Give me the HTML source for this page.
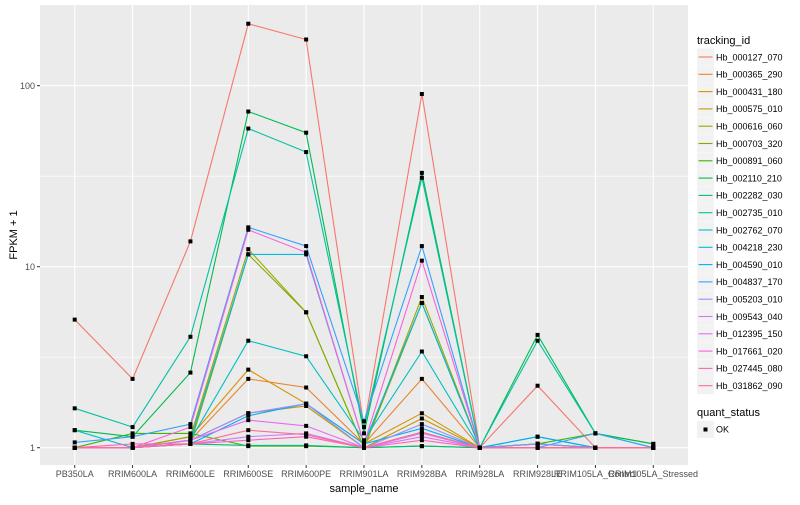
<!DOCTYPE html>
<html><head><meta charset="utf-8"><style>
body{margin:0;background:#fff;font-family:"Liberation Sans",sans-serif}
svg text{font-family:"Liberation Sans",sans-serif}
</style></head><body>
<svg id="chart" width="800" height="500" xmlns="http://www.w3.org/2000/svg"></svg>
<script>
const categories=["PB350LA","RRIM600LA","RRIM600LE","RRIM600SE","RRIM600PE","RRIM901LA","RRIM928BA","RRIM928LA","RRIM928LE","RRIM105LA_Control","RRIM105LA_Stressed"];
const seriesNames=["Hb_000127_070","Hb_000365_290","Hb_000431_180","Hb_000575_010","Hb_000616_060","Hb_000703_320","Hb_000891_060","Hb_002110_210","Hb_002282_030","Hb_002735_010","Hb_002762_070","Hb_004218_230","Hb_004590_010","Hb_004837_170","Hb_005203_010","Hb_009543_040","Hb_012395_150","Hb_017661_020","Hb_027445_080","Hb_031862_090"];
const colors=["#F8766D","#EA8331","#D89000","#C09B00","#A3A500","#7CAE00","#39B600","#00BB4E","#00BF7D","#00C1A3","#00BFC4","#00BAE0","#00B0F6","#35A2FF","#9590FF","#C77CFF","#E76BF3","#FA62DB","#FF62BC","#FF6C91"];
const s01=[5.1,2.4,13.8,220,180,1.3,90,1.0,2.2,1.0,1.0];
const s02=[1.0,1.0,1.1,2.4,2.15,1.05,2.4,1.0,1.05,1.0,1.0];
const s03=[1.0,1.0,1.15,2.7,1.75,1.05,1.55,1.0,1.05,1.0,1.0];
const s04=[1.0,1.0,1.1,1.55,1.7,1.0,1.45,1.0,1.0,1.0,1.0];
const s05=[1.0,1.0,1.15,12.5,5.6,1.0,6.8,1.0,1.05,1.0,1.0];
const s06=[1.0,1.0,1.05,11.7,5.6,1.0,6.3,1.0,1.05,1.0,1.0];
const s07=[1.0,1.2,1.2,1.02,1.02,1.0,1.02,1.0,1.05,1.2,1.05];
const s08=[1.25,1.15,2.6,72,55,1.2,33,1.0,4.2,1.2,1.05];
const s09=[1.0,1.0,1.05,1.03,1.03,1.0,1.02,1.0,1.0,1.0,1.0];
const s10=[1.65,1.3,4.1,58,43,1.3,31,1.0,3.9,1.2,1.0];
const s11=[1.25,1.0,1.1,3.9,3.2,1.1,3.4,1.0,1.05,1.0,1.0];
const s12=[1.0,1.0,1.1,11.7,11.7,1.05,6.3,1.0,1.15,1.0,1.0];
const s13=[1.0,1.0,1.05,1.5,1.75,1.05,1.28,1.0,1.15,1.0,1.0];
const s14=[1.07,1.15,1.35,16.5,13,1.4,13,1.0,1.0,1.2,1.0];
const s15=[1.0,1.0,1.1,1.55,1.75,1.0,1.35,1.0,1.05,1.0,1.0];
const s16=[1.0,1.0,1.05,1.15,1.2,1.0,1.2,1.0,1.0,1.0,1.0];
const s17=[1.0,1.0,1.1,1.42,1.32,1.0,1.15,1.0,1.0,1.0,1.0];
const s18=[1.0,1.0,1.3,16,12,1.05,10.8,1.0,1.0,1.0,1.0];
const s19=[1.0,1.05,1.05,1.1,1.15,1.0,1.1,1.0,1.0,1.0,1.0];
const s20=[1.0,1.0,1.05,1.25,1.18,1.0,1.22,1.0,1.0,1.0,1.0];
const seriesValues=[s01,s02,s03,s04,s05,s06,s07,s08,s09,s10,s11,s12,s13,s14,s15,s16,s17,s18,s19,s20];
const yTickValues=[1,10,100];
const yTickLabels=["1","10","100"];

const NS="http://www.w3.org/2000/svg";
const svg=document.getElementById('chart');
const PL=40,PR=688,PT=5,PB=465;
const step=(PR-PL)/(categories.length-1+1.2);
function xScale(i){return PL+0.6*step+i*step;}
function yScale(v){return 447.7-Math.log10(v)*181;}
function el(tag,attrs,parent){const e=document.createElementNS(NS,tag);for(const k in attrs)e.setAttribute(k,attrs[k]);(parent||svg).appendChild(e);return e;}

const panel=el('rect',{x:PL,y:PT,width:PR-PL,height:PB-PT,fill:'#EBEBEB'});


const grid=el('g',{});


[Math.sqrt(10),Math.sqrt(1000)].forEach(v=>{el('line',{x1:PL,x2:PR,y1:yScale(v),y2:yScale(v),stroke:'#fff','stroke-width':0.6},grid);});
yTickValues.forEach(v=>{el('line',{x1:PL,x2:PR,y1:yScale(v),y2:yScale(v),stroke:'#fff','stroke-width':1.1},grid);});
categories.forEach((c,i)=>{el('line',{x1:xScale(i),x2:xScale(i),y1:PT,y2:PB,stroke:'#fff','stroke-width':1.1},grid);});

const yAxis=el('g',{});


yTickValues.forEach((v,i)=>{
  el('line',{x1:PL-3,x2:PL,y1:yScale(v),y2:yScale(v),stroke:'#333','stroke-width':1},yAxis);
  const t=el('text',{x:PL-5,y:yScale(v)+3.5,'text-anchor':'end','font-size':9,fill:'#4D4D4D'},yAxis);
  t.textContent=yTickLabels[i];
  
  
});
const xAxis=el('g',{});


categories.forEach((c,i)=>{
  el('line',{x1:xScale(i),x2:xScale(i),y1:PB,y2:PB+3,stroke:'#333','stroke-width':1},xAxis);
  const t=el('text',{x:xScale(i),y:PB+12,'text-anchor':'middle','font-size':9,fill:'#4D4D4D'},xAxis);
  t.textContent=c;
  
  
});
const xt=el('text',{x:(PL+PR)/2,y:492,'text-anchor':'middle','font-size':11,fill:'#000'});
xt.textContent='sample_name';


const yt=el('text',{x:17,y:(PT+PB)/2,'text-anchor':'middle','font-size':11,fill:'#000',transform:`rotate(-90 17 ${(PT+PB)/2})`});
yt.textContent='FPKM + 1';



const lines=el('g',{});


seriesValues.forEach((vals,s)=>{
  const d=vals.map((v,i)=>(i?'L':'M')+xScale(i).toFixed(1)+','+yScale(v).toFixed(1)).join('');
  const p=el('path',{d:d,fill:'none',stroke:colors[s],'stroke-width':1.1},lines);
  
  
});
const pts=el('g',{});


seriesValues.forEach((vals,s)=>{
  vals.forEach((v,i)=>{
    const r=el('rect',{x:xScale(i)-2,y:yScale(v)-2,width:4,height:4,fill:'#000'},pts);
    
    
  });
});

const leg=el('g',{});


const lt=el('text',{x:697,y:44,'font-size':11,fill:'#000'},leg);
lt.textContent='tracking_id';


seriesNames.forEach((n,s)=>{
  const cy=57+s*17.3;
  const g=el('g',{},leg);
  
  
  el('rect',{x:697,y:cy-8.5,width:17,height:17,fill:'#F2F2F2'},g);
  el('line',{x1:698.5,x2:712.5,y1:cy,y2:cy,stroke:colors[s],'stroke-width':1.1},g);
  const t=el('text',{x:716,y:cy+3.3,'font-size':9,fill:'#000'},g);
  t.textContent=n;
});
const leg2=el('g',{});


const qt=el('text',{x:697,y:416,'font-size':11,fill:'#000'},leg2);
qt.textContent='quant_status';
el('rect',{x:697,y:421,width:17,height:17,fill:'#F2F2F2'},leg2);
el('rect',{x:703.5,y:427.5,width:4,height:4,fill:'#000'},leg2);
const ok=el('text',{x:716,y:432.5,'font-size':9,fill:'#000'},leg2);
ok.textContent='OK';
</script>
</body></html>
